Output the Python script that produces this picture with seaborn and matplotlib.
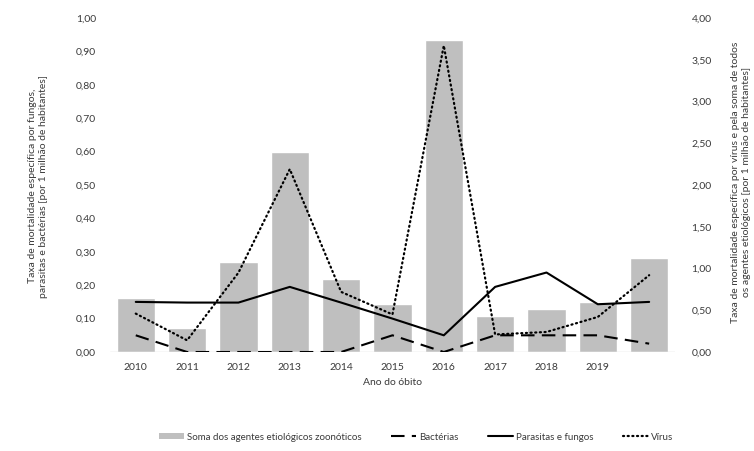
import matplotlib
matplotlib.use("Agg")
import matplotlib.pyplot as plt
from matplotlib.lines import Line2D
from matplotlib.patches import Patch
from matplotlib.ticker import FuncFormatter, MultipleLocator
import numpy as np
import pandas as pd
import seaborn as sns

# Anos do óbito (o último ano não tem rótulo no eixo)
anos = ["2010", "2011", "2012", "2013", "2014", "2015", "2016", "2017", "2018", "2019", "2020"]
rotulos_x = ["2010", "2011", "2012", "2013", "2014", "2015", "2016", "2017", "2018", "2019", ""]

# Eixo direito: soma dos agentes zoonóticos e vírus
soma_agentes = [0.65, 0.29, 1.08, 2.40, 0.87, 0.58, 3.74, 0.43, 0.52, 0.60, 1.12]
virus = [0.46, 0.14, 0.95, 2.19, 0.72, 0.45, 3.67, 0.21, 0.24, 0.42, 0.92]

# Eixo esquerdo: bactérias e parasitas/fungos
bacterias = [0.05, 0.00, 0.00, 0.00, 0.00, 0.05, 0.00, 0.05, 0.05, 0.05, 0.025]
parasitas_fungos = [0.15, 0.148, 0.148, 0.195, 0.148, 0.10, 0.05, 0.195, 0.238, 0.143, 0.15]

df = pd.DataFrame({
    "ano": anos,
    "pos": np.arange(len(anos)),
    "soma": soma_agentes,
    "virus": virus,
    "bacterias": bacterias,
    "parasitas": parasitas_fungos,
})

sns.set_theme(style="white")
plt.rcParams["font.family"] = ["Lato", "DejaVu Sans"]

CINZA_BARRA = "#bfbfbf"
COR_TEXTO = "#3a3a3a"
PONTILHADO = (0, (0.5, 1.6))
TRACEJADO = (0, (6.5, 3.5))

fig = plt.figure(figsize=(7.54, 4.51), dpi=100)
ax = fig.add_axes([0.146, 0.2195, 0.749, 0.7405])
ax2 = ax.twinx()

# Barras e vírus no eixo direito (0 a 4)
sns.barplot(data=df, x="ano", y="soma", color=CINZA_BARRA, width=0.75,
            saturation=1, ax=ax2, zorder=1)
sns.lineplot(data=df, x="pos", y="virus", ax=ax2, color="black", lw=1.6,
             linestyle=PONTILHADO, dash_capstyle="round", zorder=3)

# Bactérias e parasitas/fungos no eixo esquerdo (0 a 1)
sns.lineplot(data=df, x="pos", y="bacterias", ax=ax, color="black", lw=1.5,
             linestyle=TRACEJADO, zorder=4)
sns.lineplot(data=df, x="pos", y="parasitas", ax=ax, color="black", lw=1.5,
             zorder=4)

ax.set_zorder(ax2.get_zorder() + 1)
ax.patch.set_visible(False)

virgula = lambda casas: FuncFormatter(lambda v, _: f"{v:.{casas}f}".replace(".", ","))

ax.set_xlim(-0.5, len(anos) - 0.5)
ax.set_ylim(0, 1.0)
ax2.set_ylim(0, 4.0)
ax.yaxis.set_major_locator(MultipleLocator(0.1))
ax2.yaxis.set_major_locator(MultipleLocator(0.5))
ax.yaxis.set_major_formatter(virgula(2))
ax2.yaxis.set_major_formatter(virgula(2))

ax.set_xticks(df["pos"])
ax.set_xticklabels(rotulos_x)
ax2.set_xticks(df["pos"])
ax2.set_xticklabels(rotulos_x)

for a in (ax, ax2):
    a.set_xlabel("")
    a.set_ylabel("")
    for lado in ("top", "left", "right", "bottom"):
        a.spines[lado].set_visible(False)
    a.tick_params(axis="both", length=0, labelsize=7.5, colors=COR_TEXTO)
ax.tick_params(axis="y", pad=10)
ax2.tick_params(axis="y", pad=12)
ax.tick_params(axis="x", pad=8)
ax2.tick_params(axis="x", labelbottom=False)
ax.axhline(0, color="#d9d9d9", lw=1.0, zorder=0)

ax.set_xlabel("Ano do óbito", fontsize=7.5, color=COR_TEXTO, labelpad=4)

fig.text(38 / 754, 1 - 186 / 451,
         "Taxa de mortalidade específica por fungos,\nparasitas e bactérias [por 1 milhão de habitantes]",
         rotation=90, ha="center", va="center", multialignment="center",
         fontsize=7.5, color=COR_TEXTO, linespacing=1.25)
fig.text(741 / 754, 1 - 182 / 451,
         "Taxa de mortalidade específica por vírus e pela soma de todos\nos agentes etiológicos [por 1 milhão de habitantes]",
         rotation=90, ha="center", va="center", multialignment="center",
         fontsize=7.5, color=COR_TEXTO, linespacing=1.25)

alcas = [
    Patch(facecolor=CINZA_BARRA, edgecolor="none"),
    Line2D([], [], color="black", lw=1.5, linestyle=TRACEJADO),
    Line2D([], [], color="black", lw=1.5),
    Line2D([], [], color="black", lw=1.6, linestyle=PONTILHADO, dash_capstyle="round"),
]
nomes = ["Soma dos agentes etiológicos zoonóticos", "Bactérias", "Parasitas e fungos", "Vírus"]
fig.legend(alcas, nomes, loc="center", bbox_to_anchor=(416 / 754, 1 - 437 / 451),
           ncol=4, frameon=False, fontsize=7, labelcolor=COR_TEXTO,
           handlelength=2.6, handleheight=0.5, handletextpad=0.3, columnspacing=3.0)

fig.savefig("out.png", dpi=100)
